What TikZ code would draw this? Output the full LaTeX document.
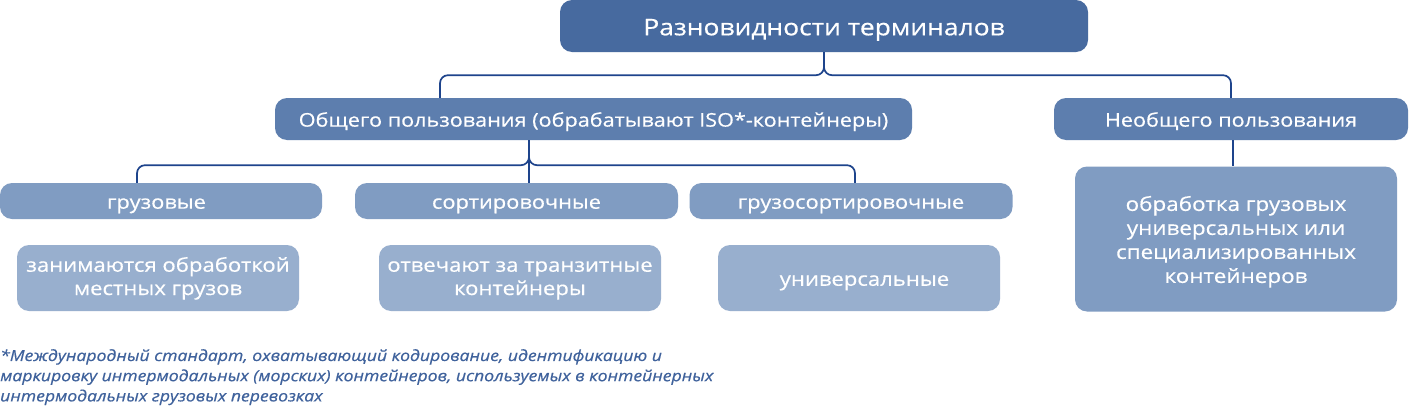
\documentclass[tikz,border=0pt]{standalone}
\usepackage{fontspec}
\setmainfont{Open Sans}[FakeStretch=1.15, FakeBold=0.5]
\usetikzlibrary{calc}
\definecolor{cTop}{HTML}{476A9F}
\definecolor{cTwo}{HTML}{5D7EAE}
\definecolor{cThree}{HTML}{809CC2}
\definecolor{cFour}{HTML}{98AFCE}
\definecolor{cLine}{HTML}{1E448C}
\definecolor{cNote}{HTML}{3F629C}
\newcommand\strA{\rule{0pt}{1.05em}}
\newcommand\strC{\rule{0pt}{0.8em}}
\newcommand\strB{\rule[-0.24em]{0pt}{0pt}}
\tikzset{
  x=1pt, y=-1pt,
  boxbase/.style={rounded corners=12pt, inner sep=0pt, text=white, align=center},
  topbox/.style={boxbase, fill=cTop, minimum width=528pt, minimum height=52pt, font=\fontsize{23}{27}\selectfont},
  twobox/.style={boxbase, fill=cTwo, minimum height=42pt, font=\fontsize{18.8}{22}\selectfont},
  threebox/.style={boxbase, fill=cThree, minimum width=323pt, minimum height=36pt, font=\fontsize{19}{22}\selectfont},
  fourbox/.style={boxbase, fill=cFour, minimum width=282pt, minimum height=66pt, font=\fontsize{19.2}{23.3}\selectfont},
  bigbox/.style={boxbase, fill=cThree, minimum width=322pt, minimum height=145pt, font=\fontsize{19.5}{24}\selectfont},
  conn/.style={draw=cLine, line width=1.7pt, rounded corners=8pt},
  notetext/.style={anchor=north west, inner sep=0pt, align=left, text=cNote, font=\fontsize{15.3}{20.2}\selectfont\itshape}
}
\begin{document}
\begin{tikzpicture}
\useasboundingbox (0,0) rectangle (1409,407);
\fill[white] (0,0) rectangle (1409,407);
\node[topbox] (top) at (824,26) {\strA Разновидности терминалов\strB};
\node[twobox, minimum width=637pt] (g) at (593.5,119) {\strA Общего пользования (обрабатывают ISO*-контейнеры)\strB};
\node[twobox, minimum width=354pt] (n) at (1231,119) {\strA Необщего пользования\strB};
\node[threebox, minimum width=322pt] (c1) at (161,201) {\strA грузовые\hspace*{9pt}\strB};
\node[threebox] (c2) at (516.5,201) {\strA сортировочные\strB};
\node[threebox] (c3) at (851,201) {\strA грузосортировочные\strB};
\node[fourbox] (d1) at (158,278) {\strC занимаются обработкой\\местных грузов\strB};
\node[fourbox] (d2) at (520,278) {\strC отвечают за транзитные\\контейнеры\strB};
\node[fourbox] (d3) at (859,278) {\strA\hspace*{11pt}универсальные\strB};
\node[bigbox] (r) at (1236,239) {\strA обработка грузовых\\универсальных или\\специализированных\\контейнеров\strB};
\node[notetext] (note) at (0,349) {\rule{0pt}{0.76em}*Международный стандарт, охватывающий кодирование, идентификацию и\\маркировку интермодальных (морских) контейнеров, используемых в контейнерных\\интермодальных грузовых перевозках};
% connectors
\coordinate (ga) at ([xshift=-153.5pt]g.north);
\coordinate (gb) at ([xshift=-64.5pt]g.south);
\coordinate (c1a) at ([xshift=-24pt]c1.north);
\coordinate (c3a) at ([xshift=4pt]c3.north);
\draw[conn] (top.south) -- ++(0,23) -| (ga);
\draw[conn] (top.south) -- ++(0,23) -| (n.north);
\draw[conn] (gb) -- ++(0,25) -| (c1a);
\draw[conn] (gb) -- ++(0,25) -| (c3a);
\draw[conn] (gb) -- (gb |- c2.north);
\draw[conn] ([xshift=2pt]n.south) -- ([xshift=2pt]n.south |- r.north);
\end{tikzpicture}
\end{document}
